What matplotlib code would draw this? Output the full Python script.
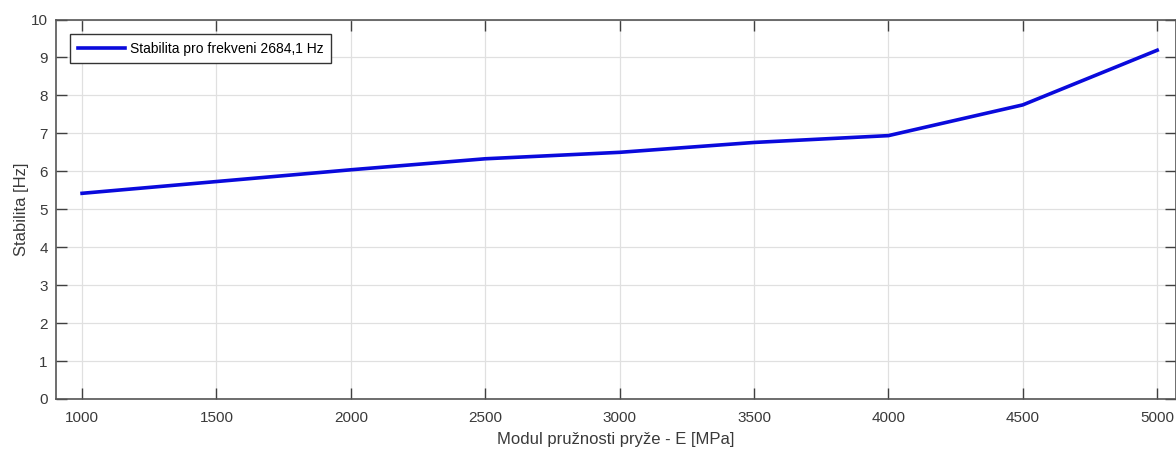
import matplotlib.pyplot as plt

E_mpa = [1000, 1500, 2000, 2500, 3000, 3500, 4000, 4500, 5000]
stabilita = [5.42, 5.73, 6.04, 6.33, 6.50, 6.76, 6.94, 7.75, 9.19]
legend_label = "Stabilita pro frekveni 2684,1 Hz"

plt.rcParams["font.family"] = ["Liberation Sans", "DejaVu Sans"]

fig = plt.figure(figsize=(11.76, 4.49), dpi=100)
ax = fig.add_axes([56 / 1176, 1 - 399 / 449, 1120 / 1176, 379.5 / 449])

ax.plot(E_mpa, stabilita, color="#0a0adc", linewidth=2.6, label=legend_label)

ax.set_xlim(903, 5070)
ax.set_ylim(0, 10)
ax.set_xticks(E_mpa)
ax.set_yticks(range(0, 11))
ax.grid(True, color="#e0e0e0", linewidth=0.9)
ax.tick_params(direction="in", length=8, width=1, colors="#404040",
               labelsize=11, top=True, right=True, labelcolor="#3a3a3a")
ax.tick_params(axis="x", pad=9)
ax.tick_params(axis="y", pad=6)
for s in ax.spines.values():
    s.set_color("#555555")
    s.set_linewidth(1.2)

ax.set_xlabel("Modul pružnosti pryže - E [MPa]", fontsize=12, color="#3a3a3a", labelpad=5)
ax.set_ylabel("Stabilita [Hz]", fontsize=12, color="#3a3a3a", labelpad=1)

leg = ax.legend(loc="upper left", fontsize=10, fancybox=False, framealpha=1,
                edgecolor="#333333", bbox_to_anchor=(0.0125, 0.962), borderaxespad=0,
                handlelength=3.4, handletextpad=0.35, borderpad=0.55)
leg.get_frame().set_linewidth(1.0)

fig.savefig("out.png", dpi=100)
